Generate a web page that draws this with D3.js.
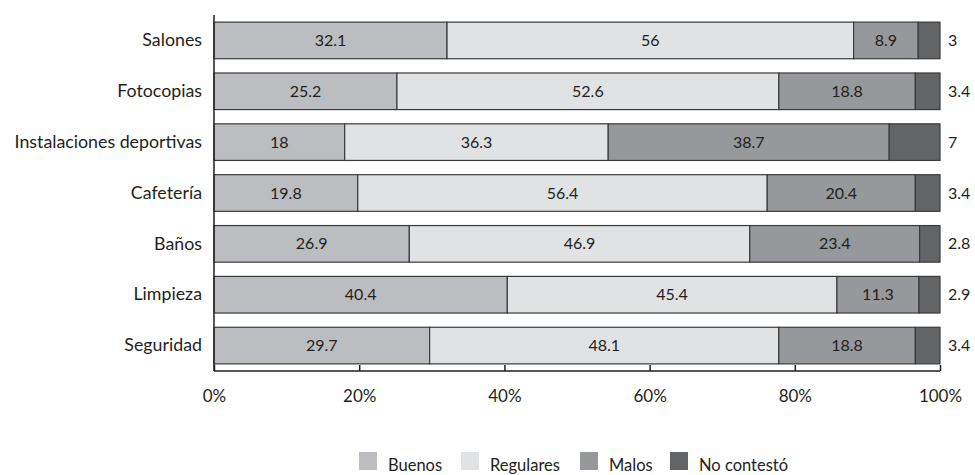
<!DOCTYPE html>
<html>
<head>
<meta charset="utf-8">
<script src="https://cdn.jsdelivr.net/npm/d3@7"></script>
<style>
  html, body { margin: 0; padding: 0; background: #fff; }
  svg { display: block; font-family: Lato, "Open Sans", sans-serif; }
</style>
</head>
<body>
<svg id="chart" width="975" height="475"></svg>
<script>
const categories = ["Salones", "Fotocopias", "Instalaciones deportivas", "Cafetería", "Baños", "Limpieza", "Seguridad"];
const seriesNames = ["Buenos", "Regulares", "Malos", "No contestó"];
const buenos    = [32.1, 25.2, 18.0, 19.8, 26.9, 40.4, 29.7];
const regulares = [56.0, 52.6, 36.3, 56.4, 46.9, 45.4, 48.1];
const malos     = [8.9, 18.8, 38.7, 20.4, 23.4, 11.3, 18.8];
const noContesto = [3.0, 3.4, 7.0, 3.4, 2.8, 2.9, 3.4];
const tickValues = [0, 20, 40, 60, 80, 100];

const colors = ["#bcbdc0", "#e1e2e4", "#97989b", "#636466"];
const seriesValues = [buenos, regulares, malos, noContesto];

const rows = categories.map((c, i) => {
  const r = { category: c };
  seriesNames.forEach((s, k) => r[s] = seriesValues[k][i]);
  return r;
});
const stacked = d3.stack().keys(seriesNames)(rows);

const svg = d3.select("#chart");
const x = d3.scaleLinear().domain([0, 100]).range([214, 940]);
const y = d3.scaleBand().domain(categories).range([15, 371]).paddingInner(0.28).paddingOuter(0.14);
const color = d3.scaleOrdinal().domain(seriesNames).range(colors);
const font = "Lato, 'Open Sans', sans-serif";

// bars
const layers = svg.append("g").selectAll("g").data(stacked).join("g")
  .attr("fill", d => color(d.key));
layers.selectAll("rect").data(d => d).join("rect")
  .attr("x", d => x(d[0]))
  .attr("y", d => y(d.data.category))
  .attr("width", d => x(d[1]) - x(d[0]))
  .attr("height", y.bandwidth())
  .attr("stroke", "#3b3b3b")
  .attr("stroke-width", 1.2);

// value labels
stacked.forEach((layer, k) => {
  const last = k === seriesNames.length - 1;
  svg.append("g").selectAll("text").data(layer).join("text")
    .attr("x", d => last ? 948 : (x(d[0]) + x(d[1])) / 2)
    .attr("y", d => y(d.data.category) + y.bandwidth() / 2)
    .attr("dy", "0.35em")
    .attr("text-anchor", last ? "start" : "middle")
    .attr("font-size", 16)
    .attr("fill", "#231f20")
    .text(d => d3.format("~g")(+(d[1] - d[0]).toFixed(1)));
});

// y axis
const yAxis = d3.axisLeft(y).tickSize(0).tickPadding(12);
const gy = svg.append("g").attr("transform", "translate(214,0)").call(yAxis);
gy.select(".domain").remove();
gy.selectAll("text").attr("font-size", 17.8).attr("fill", "#231f20").attr("font-family", font);
svg.append("line").attr("x1", 214).attr("x2", 214).attr("y1", 15).attr("y2", 371)
  .attr("stroke", "#231f20").attr("stroke-width", 1.5);

// x axis
const xAxis = d3.axisBottom(x).tickValues(tickValues).tickFormat(d => d + "%").tickSize(-6).tickPadding(19);
const gx = svg.append("g").attr("transform", "translate(0,371)").call(xAxis);
gx.select(".domain").attr("d", `M${x(0)},0H${x(100)}`).attr("stroke", "#231f20").attr("stroke-width", 1.5);
gx.selectAll(".tick line").attr("stroke", "#231f20").attr("stroke-width", 1.5);
gx.selectAll("text").attr("font-size", 17).attr("fill", "#231f20").attr("font-family", font);

// legend
const legendX = [359, 461, 580, 670];
const legend = svg.append("g").selectAll("g").data(seriesNames).join("g")
  .attr("transform", (d, i) => `translate(${legendX[i]},452)`);
legend.append("rect").attr("width", 18).attr("height", 18).attr("fill", d => color(d));
legend.append("text").attr("x", 29).attr("y", 9).attr("dy", "0.6em")
  .attr("font-size", 16.5).attr("fill", "#231f20").text(d => d);
</script>
</body>
</html>
